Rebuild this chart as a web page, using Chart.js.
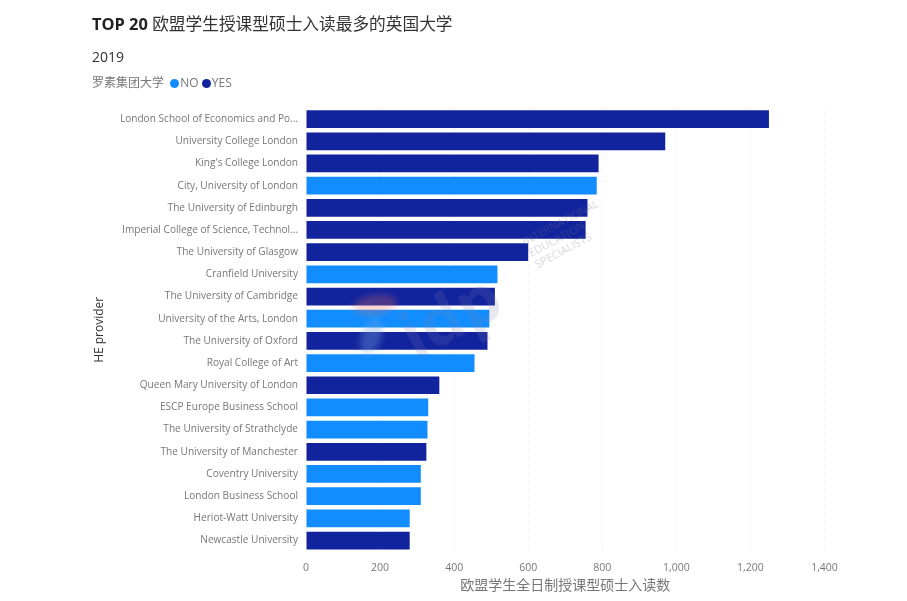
<!DOCTYPE html>
<html>
<head>
<meta charset="utf-8">
<script src="https://cdn.jsdelivr.net/npm/chart.js@4"></script>
<style>
  html, body { margin: 0; padding: 0; background: #fff; }
  #wrap { position: relative; width: 907px; height: 601px; overflow: hidden; font-family: "Open Sans", "Noto Sans CJK SC", sans-serif; }
  #chart { position: absolute; left: 0; top: 0; }
  .head { position: absolute; left: 92px; white-space: nowrap; }
  #title { top: 12px; font-size: 16.7px; color: #333; line-height: 24px; }
  #title b { color: #222; font-size: 16.4px; }
  #year { top: 47px; font-size: 14px; color: #333; line-height: 20px; }
  #legend { top: 74px; font-size: 12px; color: #777; line-height: 18px; }
  #legend i { display: inline-block; width: 9px; height: 9px; border-radius: 50%; margin-right: 1px; vertical-align: -0.5px; }
  .mark { position: absolute; white-space: nowrap; transform-origin: left top; pointer-events: none; }
</style>
</head>
<body>
<div id="wrap">
  <canvas id="chart" width="907" height="601"></canvas>
  <div class="head" id="title"><b>TOP 20</b> 欧盟学生授课型硕士入读最多的英国大学</div>
  <div class="head" id="year">2019</div>
  <div class="head" id="legend"></div>
  <div class="mark" style="left:352px;top:298px;width:44px;height:20px;border-radius:50%;background:rgba(235,110,90,0.28);filter:blur(3px);transform:rotate(-8deg)"></div>
  <div class="mark" style="left:368px;top:316px;width:20px;height:36px;border-radius:50%;background:rgba(120,170,220,0.35);filter:blur(3px);transform:rotate(20deg)"></div>
  <div class="mark" style="left:382px;top:298px;font:bold 66px 'Open Sans';color:rgba(120,130,170,0.18);transform:rotate(-28deg)">idp</div>
  <div class="mark" style="left:520px;top:236px;font:11px/13px 'Open Sans';color:rgba(120,120,130,0.30);transform:rotate(-28deg)">INTERNATIONAL<br>EDUCATION<br>SPECIALISTS</div>
</div>
<script>
  const universities = [
    'London School of Economics and Po…',
    'University College London',
    "King's College London",
    'City, University of London',
    'The University of Edinburgh',
    'Imperial College of Science, Technol…',
    'The University of Glasgow',
    'Cranfield University',
    'The University of Cambridge',
    'University of the Arts, London',
    'The University of Oxford',
    'Royal College of Art',
    'Queen Mary University of London',
    'ESCP Europe Business School',
    'The University of Strathclyde',
    'The University of Manchester',
    'Coventry University',
    'London Business School',
    'Heriot-Watt University',
    'Newcastle University'
  ]
  const russellNo = [null, null, null, 785, null, null, null, 517, null, 495, null, 455, null, 330, 328, null, 310, 310, 280, null]
  const russellYes = [1250, 970, 790, null, 760, 755, 600, null, 510, null, 490, null, 360, null, null, 325, null, null, null, 280]
  const legendTitle = '罗素集团大学'
  const xTitle = '欧盟学生全日制授课型硕士入读数'
  const yTitle = 'HE provider'
  const colorNo = '#118DFF'
  const colorYes = '#12239E'
  const font = '"Open Sans", "Noto Sans CJK SC", sans-serif'

  // header legend is html so the group name can sit left of the keys
  document.getElementById('legend').innerHTML = legendTitle +
    '&nbsp; <i style="background:' + colorNo + '"></i>NO&nbsp;<i style="background:' + colorYes + '"></i>YES'

  let ctx = document.getElementById('chart')
  new Chart(ctx, {
    type: 'bar',
    data: {
      labels: universities,
      datasets: [
        { label: 'NO', data: russellNo, backgroundColor: colorNo, categoryPercentage: 0.8, barPercentage: 1 },
        { label: 'YES', data: russellYes, backgroundColor: colorYes, categoryPercentage: 0.8, barPercentage: 1 }
      ]
    },
    options: {
      indexAxis: 'y',
      responsive: false,
      animation: false,
      layout: { padding: { left: 92, top: 108, right: 82.5, bottom: 7 } },
      plugins: { legend: { display: false }, tooltip: { enabled: false } },
      scales: {
        x: {
          stacked: true,
          min: 0,
          max: 1400,
          ticks: { stepSize: 200, color: '#777', padding: 10, maxRotation: 0, font: { family: font, size: 10.5 } },
          grid: { color: '#e8e8e8', tickLength: 0, lineWidth: 1 },
          border: { display: false, dash: [1, 3] },
          title: { display: true, text: xTitle, color: '#777', padding: { top: -7, bottom: 0 }, font: { family: font, size: 14 } }
        },
        y: {
          stacked: true,
          ticks: { color: '#777', padding: 0, autoSkip: false, font: { family: font, size: 10.1 } },
          grid: { display: false },
          border: { display: false },
          title: { display: true, text: yTitle, color: '#333', padding: { top: 0, bottom: 0 }, font: { family: font, size: 12 } },
          afterFit(scale) { scale.width = 214 }
        }
      }
    }
  })
</script>
</body>
</html>
